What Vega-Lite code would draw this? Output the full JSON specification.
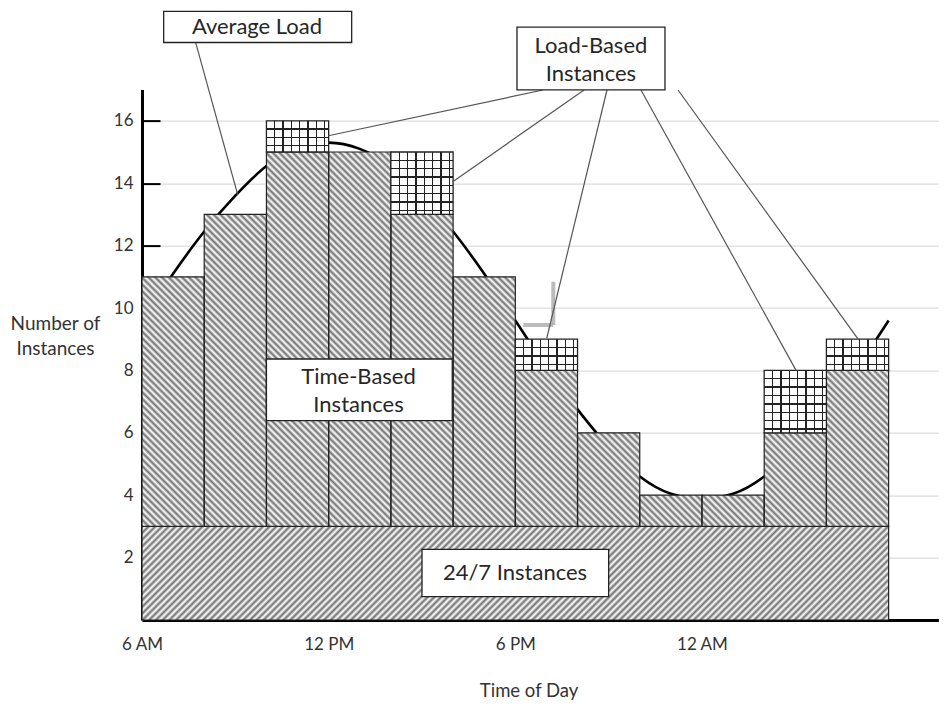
{
"$schema":"https://vega.github.io/schema/vega-lite/v6.json",
"width":796.4,"height":530.4,
"autosize":{"type":"none"},
"padding":{"left":142,"top":89.6,"right":5.6,"bottom":87},
"background":"#ffffff",
"config":{"view":{"stroke":null},"font":"Lato"},
"datasets":{
"avgLoad":[{"hour":6,"load":9.6},{"hour":7,"load":11.1},{"hour":8,"load":12.45},{"hour":9,"load":13.6},{"hour":10,"load":14.55},{"hour":11,"load":15.1},{"hour":12,"load":15.3},{"hour":13,"load":15.1},{"hour":14,"load":14.55},{"hour":15,"load":13.6},{"hour":16,"load":12.45},{"hour":17,"load":11.1},{"hour":18,"load":9.6},{"hour":19,"load":8.1},{"hour":20,"load":6.75},{"hour":21,"load":5.55},{"hour":22,"load":4.6},{"hour":23,"load":4.05},{"hour":24,"load":3.9},{"hour":25,"load":4.05},{"hour":26,"load":4.6},{"hour":27,"load":5.55},{"hour":28,"load":6.75},{"hour":29,"load":8.1},{"hour":30,"load":9.6}],
"band":[{"start":6,"end":30,"count":3}],
"steps":[{"hour":6,"time":11},{"hour":8,"time":13},{"hour":10,"time":15},{"hour":12,"time":15},{"hour":14,"time":13},{"hour":16,"time":11},{"hour":18,"time":8},{"hour":20,"time":6},{"hour":22,"time":4},{"hour":24,"time":4},{"hour":26,"time":6},{"hour":28,"time":8},{"hour":30,"time":8}],
"bars":[{"start":6,"end":8,"base":3,"time":11},{"start":8,"end":10,"base":3,"time":13},{"start":10,"end":12,"base":3,"time":15,"load":16},{"start":12,"end":14,"base":3,"time":15},{"start":14,"end":16,"base":3,"time":13,"load":15},{"start":16,"end":18,"base":3,"time":11},{"start":18,"end":20,"base":3,"time":8,"load":9},{"start":20,"end":22,"base":3,"time":6},{"start":22,"end":24,"base":3,"time":4},{"start":24,"end":26,"base":3,"time":4},{"start":26,"end":28,"base":3,"time":6,"load":8},{"start":28,"end":30,"base":3,"time":8,"load":9}],
"shadow":[{"x":19.221,"y":10.843,"x2":19.221,"y2":9.455},{"x":18.257,"y":9.455,"x2":19.221,"y2":9.455}],
"connectors":[{"x":7.726,"y":18.503,"x2":9.08,"y2":13.62},{"x":18.89,"y":16.987,"x2":11.99,"y2":15.52},{"x":20.21,"y":16.987,"x2":15.99,"y2":14.05},{"x":20.947,"y":16.987,"x2":19.01,"y2":9.03},{"x":22.04,"y":16.987,"x2":27.02,"y2":8.01},{"x":23.23,"y":16.987,"x2":29.02,"y2":9.0}],
"notes":[{"label":"Average Load","x1":6.697,"x2":12.74,"y1":19.51,"y2":18.51,"tx":9.697,"ty":19.006},{"label":"Load-Based\nInstances","x1":18.054,"x2":22.811,"y1":19.0,"y2":16.99,"tx":20.43,"ty":18.4},{"label":"Time-Based\nInstances","x1":10,"x2":15.974,"y1":8.365,"y2":6.388,"tx":12.96,"ty":7.8},{"label":"24/7 Instances","x1":15,"x2":21,"y1":2.266,"y2":0.747,"tx":17.99,"ty":1.51}]
},
"layer":[
{"data":{"name":"avgLoad"},"mark":{"type":"line","color":"#000","strokeWidth":2.6,"interpolate":"monotone"},
"encoding":{
"x":{"field":"hour","type":"quantitative","scale":{"domain":[6,31.6],"nice":false,"zero":false},
"axis":{"values":[6,12,18,24],"labelExpr":"datum.value==6?'6 AM':datum.value==12?'12 PM':datum.value==18?'6 PM':'12 AM'","ticks":false,"grid":false,"domainColor":"#000","domainWidth":3,"labelPadding":16,"labelFlush":false,"labelFont":"Lato","labelFontSize":17,"labelColor":"#333","title":"Time of Day","titleX":386.6,"titleY":70,"titleAlign":"center","titleBaseline":"middle","titleFont":"Lato","titleFontSize":18.5,"titleFontWeight":"normal","titleColor":"#333","zindex":0}},
"y":{"field":"load","type":"quantitative","scale":{"domain":[0,17],"nice":false},
"axis":{"values":[2,4,6,8,10,12,14,16],"grid":true,"gridColor":"#d4d4d4","gridWidth":1,"domainColor":"#000","domainWidth":3,"tickColor":"#000","tickWidth":2,"tickSize":-18,"labelPadding":27,"labelFont":"Lato","labelFontSize":17,"labelColor":"#333","title":["Number of","Instances"],"titleAngle":0,"titleX":-87,"titleY":234,"titleAlign":"center","titleBaseline":"middle","titleFont":"Lato","titleFontSize":19,"titleFontWeight":"normal","titleColor":"#333","titleLineHeight":25,"zindex":0}}}},
{"data":{"name":"band"},"mark":{"type":"rect","stroke":"#222","strokeWidth":1.2,"fill":{"gradient":"linear","x1":0,"y1":0,"x2":1.108,"y2":0.1389,"stops":[
{"offset":0,"color":"#707070"},{"offset":0.004,"color":"#fff"},{"offset":0.008,"color":"#707070"},{"offset":0.012,"color":"#fff"},{"offset":0.016,"color":"#707070"},{"offset":0.02,"color":"#fff"},{"offset":0.024,"color":"#707070"},{"offset":0.028,"color":"#fff"},{"offset":0.032,"color":"#707070"},{"offset":0.036,"color":"#fff"},
{"offset":0.04,"color":"#707070"},{"offset":0.044,"color":"#fff"},{"offset":0.048,"color":"#707070"},{"offset":0.052,"color":"#fff"},{"offset":0.056,"color":"#707070"},{"offset":0.06,"color":"#fff"},{"offset":0.064,"color":"#707070"},{"offset":0.068,"color":"#fff"},{"offset":0.072,"color":"#707070"},{"offset":0.076,"color":"#fff"},
{"offset":0.08,"color":"#707070"},{"offset":0.084,"color":"#fff"},{"offset":0.088,"color":"#707070"},{"offset":0.092,"color":"#fff"},{"offset":0.096,"color":"#707070"},{"offset":0.1,"color":"#fff"},{"offset":0.104,"color":"#707070"},{"offset":0.108,"color":"#fff"},{"offset":0.112,"color":"#707070"},{"offset":0.116,"color":"#fff"},
{"offset":0.12,"color":"#707070"},{"offset":0.124,"color":"#fff"},{"offset":0.128,"color":"#707070"},{"offset":0.132,"color":"#fff"},{"offset":0.136,"color":"#707070"},{"offset":0.14,"color":"#fff"},{"offset":0.144,"color":"#707070"},{"offset":0.148,"color":"#fff"},{"offset":0.152,"color":"#707070"},{"offset":0.156,"color":"#fff"},
{"offset":0.16,"color":"#707070"},{"offset":0.164,"color":"#fff"},{"offset":0.168,"color":"#707070"},{"offset":0.172,"color":"#fff"},{"offset":0.176,"color":"#707070"},{"offset":0.18,"color":"#fff"},{"offset":0.184,"color":"#707070"},{"offset":0.188,"color":"#fff"},{"offset":0.192,"color":"#707070"},{"offset":0.196,"color":"#fff"},
{"offset":0.2,"color":"#707070"},{"offset":0.204,"color":"#fff"},{"offset":0.208,"color":"#707070"},{"offset":0.212,"color":"#fff"},{"offset":0.216,"color":"#707070"},{"offset":0.22,"color":"#fff"},{"offset":0.224,"color":"#707070"},{"offset":0.228,"color":"#fff"},{"offset":0.232,"color":"#707070"},{"offset":0.236,"color":"#fff"},
{"offset":0.24,"color":"#707070"},{"offset":0.244,"color":"#fff"},{"offset":0.248,"color":"#707070"},{"offset":0.252,"color":"#fff"},{"offset":0.256,"color":"#707070"},{"offset":0.26,"color":"#fff"},{"offset":0.264,"color":"#707070"},{"offset":0.268,"color":"#fff"},{"offset":0.272,"color":"#707070"},{"offset":0.276,"color":"#fff"},
{"offset":0.28,"color":"#707070"},{"offset":0.284,"color":"#fff"},{"offset":0.288,"color":"#707070"},{"offset":0.292,"color":"#fff"},{"offset":0.296,"color":"#707070"},{"offset":0.3,"color":"#fff"},{"offset":0.304,"color":"#707070"},{"offset":0.308,"color":"#fff"},{"offset":0.312,"color":"#707070"},{"offset":0.316,"color":"#fff"},
{"offset":0.32,"color":"#707070"},{"offset":0.324,"color":"#fff"},{"offset":0.328,"color":"#707070"},{"offset":0.332,"color":"#fff"},{"offset":0.336,"color":"#707070"},{"offset":0.34,"color":"#fff"},{"offset":0.344,"color":"#707070"},{"offset":0.348,"color":"#fff"},{"offset":0.352,"color":"#707070"},{"offset":0.356,"color":"#fff"},
{"offset":0.36,"color":"#707070"},{"offset":0.364,"color":"#fff"},{"offset":0.368,"color":"#707070"},{"offset":0.372,"color":"#fff"},{"offset":0.376,"color":"#707070"},{"offset":0.38,"color":"#fff"},{"offset":0.384,"color":"#707070"},{"offset":0.388,"color":"#fff"},{"offset":0.392,"color":"#707070"},{"offset":0.396,"color":"#fff"},
{"offset":0.4,"color":"#707070"},{"offset":0.404,"color":"#fff"},{"offset":0.408,"color":"#707070"},{"offset":0.412,"color":"#fff"},{"offset":0.416,"color":"#707070"},{"offset":0.42,"color":"#fff"},{"offset":0.424,"color":"#707070"},{"offset":0.428,"color":"#fff"},{"offset":0.432,"color":"#707070"},{"offset":0.436,"color":"#fff"},
{"offset":0.44,"color":"#707070"},{"offset":0.444,"color":"#fff"},{"offset":0.448,"color":"#707070"},{"offset":0.452,"color":"#fff"},{"offset":0.456,"color":"#707070"},{"offset":0.46,"color":"#fff"},{"offset":0.464,"color":"#707070"},{"offset":0.468,"color":"#fff"},{"offset":0.472,"color":"#707070"},{"offset":0.476,"color":"#fff"},
{"offset":0.48,"color":"#707070"},{"offset":0.484,"color":"#fff"},{"offset":0.488,"color":"#707070"},{"offset":0.492,"color":"#fff"},{"offset":0.496,"color":"#707070"},{"offset":0.5,"color":"#fff"},{"offset":0.504,"color":"#707070"},{"offset":0.508,"color":"#fff"},{"offset":0.512,"color":"#707070"},{"offset":0.516,"color":"#fff"},
{"offset":0.52,"color":"#707070"},{"offset":0.524,"color":"#fff"},{"offset":0.528,"color":"#707070"},{"offset":0.532,"color":"#fff"},{"offset":0.536,"color":"#707070"},{"offset":0.54,"color":"#fff"},{"offset":0.544,"color":"#707070"},{"offset":0.548,"color":"#fff"},{"offset":0.552,"color":"#707070"},{"offset":0.556,"color":"#fff"},
{"offset":0.56,"color":"#707070"},{"offset":0.564,"color":"#fff"},{"offset":0.568,"color":"#707070"},{"offset":0.572,"color":"#fff"},{"offset":0.576,"color":"#707070"},{"offset":0.58,"color":"#fff"},{"offset":0.584,"color":"#707070"},{"offset":0.588,"color":"#fff"},{"offset":0.592,"color":"#707070"},{"offset":0.596,"color":"#fff"},
{"offset":0.6,"color":"#707070"},{"offset":0.604,"color":"#fff"},{"offset":0.608,"color":"#707070"},{"offset":0.612,"color":"#fff"},{"offset":0.616,"color":"#707070"},{"offset":0.62,"color":"#fff"},{"offset":0.624,"color":"#707070"},{"offset":0.628,"color":"#fff"},{"offset":0.632,"color":"#707070"},{"offset":0.636,"color":"#fff"},
{"offset":0.64,"color":"#707070"},{"offset":0.644,"color":"#fff"},{"offset":0.648,"color":"#707070"},{"offset":0.652,"color":"#fff"},{"offset":0.656,"color":"#707070"},{"offset":0.66,"color":"#fff"},{"offset":0.664,"color":"#707070"},{"offset":0.668,"color":"#fff"},{"offset":0.672,"color":"#707070"},{"offset":0.676,"color":"#fff"},
{"offset":0.68,"color":"#707070"},{"offset":0.684,"color":"#fff"},{"offset":0.688,"color":"#707070"},{"offset":0.692,"color":"#fff"},{"offset":0.696,"color":"#707070"},{"offset":0.7,"color":"#fff"},{"offset":0.704,"color":"#707070"},{"offset":0.708,"color":"#fff"},{"offset":0.712,"color":"#707070"},{"offset":0.716,"color":"#fff"},
{"offset":0.72,"color":"#707070"},{"offset":0.724,"color":"#fff"},{"offset":0.728,"color":"#707070"},{"offset":0.732,"color":"#fff"},{"offset":0.736,"color":"#707070"},{"offset":0.74,"color":"#fff"},{"offset":0.744,"color":"#707070"},{"offset":0.748,"color":"#fff"},{"offset":0.752,"color":"#707070"},{"offset":0.756,"color":"#fff"},
{"offset":0.76,"color":"#707070"},{"offset":0.764,"color":"#fff"},{"offset":0.768,"color":"#707070"},{"offset":0.772,"color":"#fff"},{"offset":0.776,"color":"#707070"},{"offset":0.78,"color":"#fff"},{"offset":0.784,"color":"#707070"},{"offset":0.788,"color":"#fff"},{"offset":0.792,"color":"#707070"},{"offset":0.796,"color":"#fff"},
{"offset":0.8,"color":"#707070"},{"offset":0.804,"color":"#fff"},{"offset":0.808,"color":"#707070"},{"offset":0.812,"color":"#fff"},{"offset":0.816,"color":"#707070"},{"offset":0.82,"color":"#fff"},{"offset":0.824,"color":"#707070"},{"offset":0.828,"color":"#fff"},{"offset":0.832,"color":"#707070"},{"offset":0.836,"color":"#fff"},
{"offset":0.84,"color":"#707070"},{"offset":0.844,"color":"#fff"},{"offset":0.848,"color":"#707070"},{"offset":0.852,"color":"#fff"},{"offset":0.856,"color":"#707070"},{"offset":0.86,"color":"#fff"},{"offset":0.864,"color":"#707070"},{"offset":0.868,"color":"#fff"},{"offset":0.872,"color":"#707070"},{"offset":0.876,"color":"#fff"},
{"offset":0.88,"color":"#707070"},{"offset":0.884,"color":"#fff"},{"offset":0.888,"color":"#707070"},{"offset":0.892,"color":"#fff"},{"offset":0.896,"color":"#707070"},{"offset":0.9,"color":"#fff"},{"offset":0.904,"color":"#707070"},{"offset":0.908,"color":"#fff"},{"offset":0.912,"color":"#707070"},{"offset":0.916,"color":"#fff"},
{"offset":0.92,"color":"#707070"},{"offset":0.924,"color":"#fff"},{"offset":0.928,"color":"#707070"},{"offset":0.932,"color":"#fff"},{"offset":0.936,"color":"#707070"},{"offset":0.94,"color":"#fff"},{"offset":0.944,"color":"#707070"},{"offset":0.948,"color":"#fff"},{"offset":0.952,"color":"#707070"},{"offset":0.956,"color":"#fff"},
{"offset":0.96,"color":"#707070"},{"offset":0.964,"color":"#fff"},{"offset":0.968,"color":"#707070"},{"offset":0.972,"color":"#fff"},{"offset":0.976,"color":"#707070"},{"offset":0.98,"color":"#fff"},{"offset":0.984,"color":"#707070"},{"offset":0.988,"color":"#fff"},{"offset":0.992,"color":"#707070"},{"offset":0.996,"color":"#fff"},
{"offset":1,"color":"#707070"}]}},
"encoding":{"x":{"field":"start","type":"quantitative"},"x2":{"field":"end"},"y":{"field":"count","type":"quantitative"},"y2":{"datum":0}}},
{"data":{"name":"steps"},"mark":{"type":"area","interpolate":"step-after","fill":{"gradient":"linear","x1":0,"y1":1,"x2":1.1998,"y2":0.3984,"stops":[
{"offset":0,"color":"#707070"},{"offset":0.003,"color":"#fff"},{"offset":0.006,"color":"#707070"},{"offset":0.009,"color":"#fff"},{"offset":0.012,"color":"#707070"},{"offset":0.015,"color":"#fff"},{"offset":0.018,"color":"#707070"},{"offset":0.021,"color":"#fff"},{"offset":0.024,"color":"#707070"},{"offset":0.027,"color":"#fff"},
{"offset":0.03,"color":"#707070"},{"offset":0.033,"color":"#fff"},{"offset":0.036,"color":"#707070"},{"offset":0.039,"color":"#fff"},{"offset":0.042,"color":"#707070"},{"offset":0.045,"color":"#fff"},{"offset":0.048,"color":"#707070"},{"offset":0.051,"color":"#fff"},{"offset":0.054,"color":"#707070"},{"offset":0.057,"color":"#fff"},
{"offset":0.06,"color":"#707070"},{"offset":0.063,"color":"#fff"},{"offset":0.066,"color":"#707070"},{"offset":0.069,"color":"#fff"},{"offset":0.072,"color":"#707070"},{"offset":0.075,"color":"#fff"},{"offset":0.078,"color":"#707070"},{"offset":0.081,"color":"#fff"},{"offset":0.084,"color":"#707070"},{"offset":0.087,"color":"#fff"},
{"offset":0.09,"color":"#707070"},{"offset":0.093,"color":"#fff"},{"offset":0.096,"color":"#707070"},{"offset":0.099,"color":"#fff"},{"offset":0.102,"color":"#707070"},{"offset":0.105,"color":"#fff"},{"offset":0.108,"color":"#707070"},{"offset":0.111,"color":"#fff"},{"offset":0.114,"color":"#707070"},{"offset":0.117,"color":"#fff"},
{"offset":0.12,"color":"#707070"},{"offset":0.123,"color":"#fff"},{"offset":0.126,"color":"#707070"},{"offset":0.129,"color":"#fff"},{"offset":0.132,"color":"#707070"},{"offset":0.135,"color":"#fff"},{"offset":0.138,"color":"#707070"},{"offset":0.141,"color":"#fff"},{"offset":0.144,"color":"#707070"},{"offset":0.147,"color":"#fff"},
{"offset":0.15,"color":"#707070"},{"offset":0.153,"color":"#fff"},{"offset":0.156,"color":"#707070"},{"offset":0.159,"color":"#fff"},{"offset":0.162,"color":"#707070"},{"offset":0.165,"color":"#fff"},{"offset":0.168,"color":"#707070"},{"offset":0.171,"color":"#fff"},{"offset":0.174,"color":"#707070"},{"offset":0.177,"color":"#fff"},
{"offset":0.18,"color":"#707070"},{"offset":0.183,"color":"#fff"},{"offset":0.186,"color":"#707070"},{"offset":0.189,"color":"#fff"},{"offset":0.192,"color":"#707070"},{"offset":0.195,"color":"#fff"},{"offset":0.198,"color":"#707070"},{"offset":0.201,"color":"#fff"},{"offset":0.204,"color":"#707070"},{"offset":0.207,"color":"#fff"},
{"offset":0.21,"color":"#707070"},{"offset":0.213,"color":"#fff"},{"offset":0.216,"color":"#707070"},{"offset":0.219,"color":"#fff"},{"offset":0.222,"color":"#707070"},{"offset":0.225,"color":"#fff"},{"offset":0.228,"color":"#707070"},{"offset":0.231,"color":"#fff"},{"offset":0.234,"color":"#707070"},{"offset":0.237,"color":"#fff"},
{"offset":0.24,"color":"#707070"},{"offset":0.243,"color":"#fff"},{"offset":0.246,"color":"#707070"},{"offset":0.249,"color":"#fff"},{"offset":0.252,"color":"#707070"},{"offset":0.255,"color":"#fff"},{"offset":0.258,"color":"#707070"},{"offset":0.261,"color":"#fff"},{"offset":0.264,"color":"#707070"},{"offset":0.267,"color":"#fff"},
{"offset":0.27,"color":"#707070"},{"offset":0.273,"color":"#fff"},{"offset":0.276,"color":"#707070"},{"offset":0.279,"color":"#fff"},{"offset":0.282,"color":"#707070"},{"offset":0.285,"color":"#fff"},{"offset":0.288,"color":"#707070"},{"offset":0.291,"color":"#fff"},{"offset":0.294,"color":"#707070"},{"offset":0.297,"color":"#fff"},
{"offset":0.3,"color":"#707070"},{"offset":0.303,"color":"#fff"},{"offset":0.306,"color":"#707070"},{"offset":0.309,"color":"#fff"},{"offset":0.312,"color":"#707070"},{"offset":0.315,"color":"#fff"},{"offset":0.318,"color":"#707070"},{"offset":0.321,"color":"#fff"},{"offset":0.324,"color":"#707070"},{"offset":0.327,"color":"#fff"},
{"offset":0.33,"color":"#707070"},{"offset":0.333,"color":"#fff"},{"offset":0.336,"color":"#707070"},{"offset":0.339,"color":"#fff"},{"offset":0.342,"color":"#707070"},{"offset":0.345,"color":"#fff"},{"offset":0.348,"color":"#707070"},{"offset":0.351,"color":"#fff"},{"offset":0.354,"color":"#707070"},{"offset":0.357,"color":"#fff"},
{"offset":0.36,"color":"#707070"},{"offset":0.363,"color":"#fff"},{"offset":0.366,"color":"#707070"},{"offset":0.369,"color":"#fff"},{"offset":0.372,"color":"#707070"},{"offset":0.375,"color":"#fff"},{"offset":0.378,"color":"#707070"},{"offset":0.381,"color":"#fff"},{"offset":0.384,"color":"#707070"},{"offset":0.387,"color":"#fff"},
{"offset":0.39,"color":"#707070"},{"offset":0.393,"color":"#fff"},{"offset":0.396,"color":"#707070"},{"offset":0.399,"color":"#fff"},{"offset":0.402,"color":"#707070"},{"offset":0.405,"color":"#fff"},{"offset":0.408,"color":"#707070"},{"offset":0.411,"color":"#fff"},{"offset":0.414,"color":"#707070"},{"offset":0.417,"color":"#fff"},
{"offset":0.42,"color":"#707070"},{"offset":0.423,"color":"#fff"},{"offset":0.426,"color":"#707070"},{"offset":0.429,"color":"#fff"},{"offset":0.432,"color":"#707070"},{"offset":0.435,"color":"#fff"},{"offset":0.438,"color":"#707070"},{"offset":0.441,"color":"#fff"},{"offset":0.444,"color":"#707070"},{"offset":0.447,"color":"#fff"},
{"offset":0.45,"color":"#707070"},{"offset":0.453,"color":"#fff"},{"offset":0.456,"color":"#707070"},{"offset":0.459,"color":"#fff"},{"offset":0.462,"color":"#707070"},{"offset":0.465,"color":"#fff"},{"offset":0.468,"color":"#707070"},{"offset":0.471,"color":"#fff"},{"offset":0.474,"color":"#707070"},{"offset":0.477,"color":"#fff"},
{"offset":0.48,"color":"#707070"},{"offset":0.483,"color":"#fff"},{"offset":0.486,"color":"#707070"},{"offset":0.489,"color":"#fff"},{"offset":0.492,"color":"#707070"},{"offset":0.495,"color":"#fff"},{"offset":0.498,"color":"#707070"},{"offset":0.501,"color":"#fff"},{"offset":0.504,"color":"#707070"},{"offset":0.507,"color":"#fff"},
{"offset":0.51,"color":"#707070"},{"offset":0.513,"color":"#fff"},{"offset":0.516,"color":"#707070"},{"offset":0.519,"color":"#fff"},{"offset":0.522,"color":"#707070"},{"offset":0.525,"color":"#fff"},{"offset":0.528,"color":"#707070"},{"offset":0.531,"color":"#fff"},{"offset":0.534,"color":"#707070"},{"offset":0.537,"color":"#fff"},
{"offset":0.54,"color":"#707070"},{"offset":0.543,"color":"#fff"},{"offset":0.546,"color":"#707070"},{"offset":0.549,"color":"#fff"},{"offset":0.552,"color":"#707070"},{"offset":0.555,"color":"#fff"},{"offset":0.558,"color":"#707070"},{"offset":0.561,"color":"#fff"},{"offset":0.564,"color":"#707070"},{"offset":0.567,"color":"#fff"},
{"offset":0.57,"color":"#707070"},{"offset":0.573,"color":"#fff"},{"offset":0.576,"color":"#707070"},{"offset":0.579,"color":"#fff"},{"offset":0.582,"color":"#707070"},{"offset":0.585,"color":"#fff"},{"offset":0.588,"color":"#707070"},{"offset":0.591,"color":"#fff"},{"offset":0.594,"color":"#707070"},{"offset":0.597,"color":"#fff"},
{"offset":0.6,"color":"#707070"},{"offset":0.603,"color":"#fff"},{"offset":0.606,"color":"#707070"},{"offset":0.609,"color":"#fff"},{"offset":0.612,"color":"#707070"},{"offset":0.615,"color":"#fff"},{"offset":0.618,"color":"#707070"},{"offset":0.621,"color":"#fff"},{"offset":0.624,"color":"#707070"},{"offset":0.627,"color":"#fff"},
{"offset":0.63,"color":"#707070"},{"offset":0.633,"color":"#fff"},{"offset":0.636,"color":"#707070"},{"offset":0.639,"color":"#fff"},{"offset":0.642,"color":"#707070"},{"offset":0.645,"color":"#fff"},{"offset":0.648,"color":"#707070"},{"offset":0.651,"color":"#fff"},{"offset":0.654,"color":"#707070"},{"offset":0.657,"color":"#fff"},
{"offset":0.66,"color":"#707070"},{"offset":0.663,"color":"#fff"},{"offset":0.666,"color":"#707070"},{"offset":0.669,"color":"#fff"},{"offset":0.672,"color":"#707070"},{"offset":0.675,"color":"#fff"},{"offset":0.678,"color":"#707070"},{"offset":0.681,"color":"#fff"},{"offset":0.684,"color":"#707070"},{"offset":0.687,"color":"#fff"},
{"offset":0.69,"color":"#707070"},{"offset":0.693,"color":"#fff"},{"offset":0.696,"color":"#707070"},{"offset":0.699,"color":"#fff"},{"offset":0.702,"color":"#707070"},{"offset":0.705,"color":"#fff"},{"offset":0.708,"color":"#707070"},{"offset":0.711,"color":"#fff"},{"offset":0.714,"color":"#707070"},{"offset":0.717,"color":"#fff"},
{"offset":0.72,"color":"#707070"},{"offset":0.723,"color":"#fff"},{"offset":0.726,"color":"#707070"},{"offset":0.729,"color":"#fff"},{"offset":0.732,"color":"#707070"},{"offset":0.735,"color":"#fff"},{"offset":0.738,"color":"#707070"},{"offset":0.741,"color":"#fff"},{"offset":0.744,"color":"#707070"},{"offset":0.747,"color":"#fff"},
{"offset":0.75,"color":"#707070"},{"offset":0.753,"color":"#fff"},{"offset":0.756,"color":"#707070"},{"offset":0.759,"color":"#fff"},{"offset":0.762,"color":"#707070"},{"offset":0.765,"color":"#fff"},{"offset":0.768,"color":"#707070"},{"offset":0.771,"color":"#fff"},{"offset":0.774,"color":"#707070"},{"offset":0.777,"color":"#fff"},
{"offset":0.78,"color":"#707070"},{"offset":0.783,"color":"#fff"},{"offset":0.786,"color":"#707070"},{"offset":0.789,"color":"#fff"},{"offset":0.792,"color":"#707070"},{"offset":0.795,"color":"#fff"},{"offset":0.798,"color":"#707070"},{"offset":0.801,"color":"#fff"},{"offset":0.804,"color":"#707070"},{"offset":0.807,"color":"#fff"},
{"offset":0.81,"color":"#707070"},{"offset":0.813,"color":"#fff"},{"offset":0.816,"color":"#707070"},{"offset":0.819,"color":"#fff"},{"offset":0.822,"color":"#707070"},{"offset":0.825,"color":"#fff"},{"offset":0.828,"color":"#707070"},{"offset":0.831,"color":"#fff"},{"offset":0.834,"color":"#707070"},{"offset":0.837,"color":"#fff"},
{"offset":0.84,"color":"#707070"},{"offset":0.843,"color":"#fff"},{"offset":0.846,"color":"#707070"},{"offset":0.849,"color":"#fff"},{"offset":0.852,"color":"#707070"},{"offset":0.855,"color":"#fff"},{"offset":0.858,"color":"#707070"},{"offset":0.861,"color":"#fff"},{"offset":0.864,"color":"#707070"},{"offset":0.867,"color":"#fff"},
{"offset":0.87,"color":"#707070"},{"offset":0.873,"color":"#fff"},{"offset":0.876,"color":"#707070"},{"offset":0.879,"color":"#fff"},{"offset":0.882,"color":"#707070"},{"offset":0.885,"color":"#fff"},{"offset":0.888,"color":"#707070"},{"offset":0.891,"color":"#fff"},{"offset":0.894,"color":"#707070"},{"offset":0.897,"color":"#fff"},
{"offset":0.9,"color":"#707070"},{"offset":0.903,"color":"#fff"},{"offset":0.906,"color":"#707070"},{"offset":0.909,"color":"#fff"},{"offset":0.912,"color":"#707070"},{"offset":0.915,"color":"#fff"},{"offset":0.918,"color":"#707070"},{"offset":0.921,"color":"#fff"},{"offset":0.924,"color":"#707070"},{"offset":0.927,"color":"#fff"},
{"offset":0.93,"color":"#707070"},{"offset":0.933,"color":"#fff"},{"offset":0.936,"color":"#707070"},{"offset":0.939,"color":"#fff"},{"offset":0.942,"color":"#707070"},{"offset":0.945,"color":"#fff"},{"offset":0.948,"color":"#707070"},{"offset":0.951,"color":"#fff"},{"offset":0.954,"color":"#707070"},{"offset":0.957,"color":"#fff"},
{"offset":0.96,"color":"#707070"},{"offset":0.963,"color":"#fff"},{"offset":0.966,"color":"#707070"},{"offset":0.969,"color":"#fff"},{"offset":0.972,"color":"#707070"},{"offset":0.975,"color":"#fff"},{"offset":0.978,"color":"#707070"},{"offset":0.981,"color":"#fff"},{"offset":0.984,"color":"#707070"},{"offset":0.987,"color":"#fff"},
{"offset":0.99,"color":"#707070"},{"offset":0.993,"color":"#fff"},{"offset":0.996,"color":"#707070"},{"offset":0.999,"color":"#fff"}]}},
"encoding":{"x":{"field":"hour","type":"quantitative"},"y":{"field":"time","type":"quantitative"},"y2":{"datum":3}}},
{"data":{"name":"bars"},"mark":{"type":"rect","filled":false,"color":"#222","strokeWidth":1.2},
"encoding":{"x":{"field":"start","type":"quantitative"},"x2":{"field":"end"},"y":{"field":"time","type":"quantitative"},"y2":{"field":"base"}}},
{"data":{"name":"bars"},"transform":[{"filter":"datum.load != null"}],"mark":{"type":"rect","fill":{"gradient":"linear","x1":0,"y1":0,"x2":1,"y2":0,"stops":[
{"offset":0,"color":"#fff"},{"offset":0.123,"color":"#fff"},{"offset":0.123,"color":"#222"},{"offset":0.145,"color":"#222"},{"offset":0.145,"color":"#fff"},{"offset":0.257,"color":"#fff"},{"offset":0.257,"color":"#222"},{"offset":0.279,"color":"#222"},{"offset":0.279,"color":"#fff"},{"offset":0.391,"color":"#fff"},{"offset":0.391,"color":"#222"},{"offset":0.413,"color":"#222"},{"offset":0.413,"color":"#fff"},{"offset":0.525,"color":"#fff"},{"offset":0.525,"color":"#222"},{"offset":0.547,"color":"#222"},{"offset":0.547,"color":"#fff"},{"offset":0.659,"color":"#fff"},{"offset":0.659,"color":"#222"},{"offset":0.681,"color":"#222"},{"offset":0.681,"color":"#fff"},{"offset":0.793,"color":"#fff"},{"offset":0.793,"color":"#222"},{"offset":0.815,"color":"#222"},{"offset":0.815,"color":"#fff"},{"offset":0.927,"color":"#fff"},{"offset":0.927,"color":"#222"},{"offset":0.949,"color":"#222"},{"offset":0.949,"color":"#fff"},{"offset":1,"color":"#fff"}]}},
"encoding":{"x":{"field":"start","type":"quantitative"},"x2":{"field":"end"},"y":{"field":"load","type":"quantitative"},"y2":{"field":"time"}}},
{"data":{"name":"bars"},"transform":[{"filter":"datum.load - datum.time == 1"}],"mark":{"type":"rect","fill":{"gradient":"linear","x1":0,"y1":0,"x2":0,"y2":1,"stops":[
{"offset":0,"color":"rgba(0,0,0,0)"},{"offset":0.246,"color":"rgba(0,0,0,0)"},{"offset":0.246,"color":"#222"},{"offset":0.288,"color":"#222"},{"offset":0.288,"color":"rgba(0,0,0,0)"},{"offset":0.513,"color":"rgba(0,0,0,0)"},{"offset":0.513,"color":"#222"},{"offset":0.555,"color":"#222"},{"offset":0.555,"color":"rgba(0,0,0,0)"},{"offset":0.78,"color":"rgba(0,0,0,0)"},{"offset":0.78,"color":"#222"},{"offset":0.822,"color":"#222"},{"offset":0.822,"color":"rgba(0,0,0,0)"},{"offset":1,"color":"rgba(0,0,0,0)"}]}},
"encoding":{"x":{"field":"start","type":"quantitative"},"x2":{"field":"end"},"y":{"field":"load","type":"quantitative"},"y2":{"field":"time"}}},
{"data":{"name":"bars"},"transform":[{"filter":"datum.load - datum.time == 2"}],"mark":{"type":"rect","fill":{"gradient":"linear","x1":0,"y1":0,"x2":0,"y2":1,"stops":[
{"offset":0,"color":"rgba(0,0,0,0)"},{"offset":0.123,"color":"rgba(0,0,0,0)"},{"offset":0.123,"color":"#222"},{"offset":0.145,"color":"#222"},{"offset":0.145,"color":"rgba(0,0,0,0)"},{"offset":0.257,"color":"rgba(0,0,0,0)"},{"offset":0.257,"color":"#222"},{"offset":0.279,"color":"#222"},{"offset":0.279,"color":"rgba(0,0,0,0)"},{"offset":0.391,"color":"rgba(0,0,0,0)"},{"offset":0.391,"color":"#222"},{"offset":0.413,"color":"#222"},{"offset":0.413,"color":"rgba(0,0,0,0)"},{"offset":0.525,"color":"rgba(0,0,0,0)"},{"offset":0.525,"color":"#222"},{"offset":0.547,"color":"#222"},{"offset":0.547,"color":"rgba(0,0,0,0)"},{"offset":0.659,"color":"rgba(0,0,0,0)"},{"offset":0.659,"color":"#222"},{"offset":0.681,"color":"#222"},{"offset":0.681,"color":"rgba(0,0,0,0)"},{"offset":0.793,"color":"rgba(0,0,0,0)"},{"offset":0.793,"color":"#222"},{"offset":0.815,"color":"#222"},{"offset":0.815,"color":"rgba(0,0,0,0)"},{"offset":0.927,"color":"rgba(0,0,0,0)"},{"offset":0.927,"color":"#222"},{"offset":0.949,"color":"#222"},{"offset":0.949,"color":"rgba(0,0,0,0)"},{"offset":1,"color":"rgba(0,0,0,0)"}]}},
"encoding":{"x":{"field":"start","type":"quantitative"},"x2":{"field":"end"},"y":{"field":"load","type":"quantitative"},"y2":{"field":"time"}}},
{"data":{"name":"bars"},"transform":[{"filter":"datum.load != null"}],"mark":{"type":"rect","filled":false,"color":"#222","strokeWidth":1.3},
"encoding":{"x":{"field":"start","type":"quantitative"},"x2":{"field":"end"},"y":{"field":"load","type":"quantitative"},"y2":{"field":"time"}}},
{"data":{"name":"shadow"},"mark":{"type":"rule","color":"#aaa","strokeWidth":4,"opacity":0.8},
"encoding":{"x":{"field":"x","type":"quantitative"},"y":{"field":"y","type":"quantitative"},"x2":{"field":"x2"},"y2":{"field":"y2"}}},
{"data":{"name":"connectors"},"mark":{"type":"rule","color":"#555","strokeWidth":1.2},
"encoding":{"x":{"field":"x","type":"quantitative"},"y":{"field":"y","type":"quantitative"},"x2":{"field":"x2"},"y2":{"field":"y2"}}},
{"data":{"name":"notes"},"mark":{"type":"rect","fill":"#fff","stroke":"#222","strokeWidth":1.3},
"encoding":{"x":{"field":"x1","type":"quantitative"},"x2":{"field":"x2"},"y":{"field":"y1","type":"quantitative"},"y2":{"field":"y2"}}},
{"data":{"name":"notes"},"mark":{"type":"text","font":"Lato","fontSize":22,"color":"#262626","align":"center","baseline":"middle","lineBreak":"\n","lineHeight":28},
"encoding":{"x":{"field":"tx","type":"quantitative"},"y":{"field":"ty","type":"quantitative"},"text":{"field":"label"}}}
]
}
